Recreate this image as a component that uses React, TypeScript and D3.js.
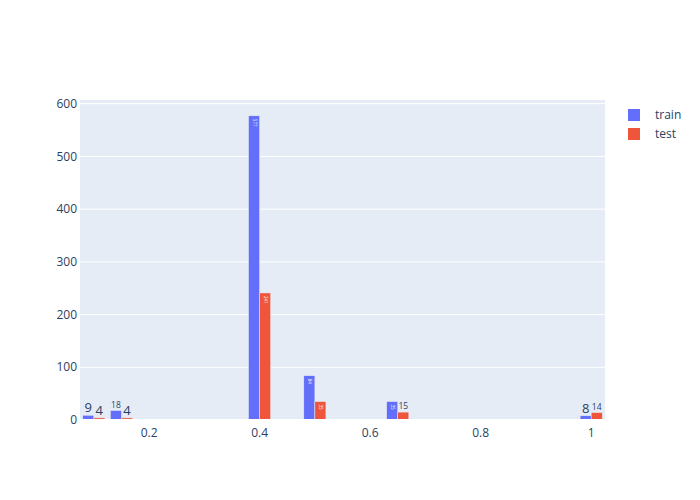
import React from "react";
import * as d3 from "d3";

const categories = [0.1, 0.15, 0.4, 0.5, 0.65, 1.0];
const trainValues = [9, 18, 577, 84, 35, 8];
const testValues = [4, 4, 241, 35, 15, 14];
const seriesNames = ["train", "test"];
const xTicks = [0.2, 0.4, 0.6, 0.8, 1];
const yTicks = [0, 100, 200, 300, 400, 500, 600];

const W = 700, H = 500;
const M = { l: 80, r: 95, t: 100, b: 80 };
const colors = ["#636efa", "#EF553B"];
const font = "'Open Sans', verdana, arial, sans-serif";

export default function App() {
  const x = d3.scaleLinear().domain([0.075, 1.025]).range([M.l, W - M.r]);
  const y = d3.scaleLinear().domain([0, 607]).range([H - M.b, M.t]);
  const groupW = x(0.075 + 0.05 * 0.8) - x(0.075);
  const barW = groupW / 2;
  const series = [trainValues, testValues];

  return (
    <svg width={W} height={H} style={{ position: "absolute", left: 0, top: 0, fontFamily: font }}>
      <rect x={0} y={0} width={W} height={H} fill="#fff" />
      <rect x={M.l} y={M.t} width={W - M.l - M.r} height={H - M.t - M.b} fill="#E5ECF6" />
      {yTicks.map((t) => (
        <g key={t}>
          {t > 0 && <line x1={M.l} x2={W - M.r} y1={y(t)} y2={y(t)} stroke="#fff" strokeWidth={1} />}
          <text x={M.l - 3} y={y(t)} dy="0.35em" textAnchor="end" fontSize={12} fill="#2a3f5f">{t}</text>
        </g>
      ))}
      {xTicks.map((t) => (
        <g key={t}>
          <text x={x(t)} y={H - M.b + 17} textAnchor="middle" fontSize={12} fill="#2a3f5f">{t}</text>
        </g>
      ))}
      {series.map((vals, si) =>
        vals.map((v, i) => {
          const cx = x(categories[i]) - groupW / 2 + si * barW;
          const top = y(v);
          const h = y(0) - top;
          const label = String(v);
          const inside = h > 15;
          const fs = label.length > 1 ? 8.5 : 13;
          return (
            <g key={`${si}-${i}`}>
              <rect x={cx} y={top} width={barW} height={h} fill={colors[si]} stroke="#E5ECF6" strokeWidth={0.5} />
              {inside ? (
                <text
                  transform={`translate(${cx + barW / 2},${top + 3}) rotate(90)`}
                  fontSize={4.5}
                  fill="#fff"
                  dy="0.35em"
                  textAnchor="start"
                >
                  {label}
                </text>
              ) : (
                <text x={cx + barW / 2} y={top - 3} textAnchor="middle" fontSize={fs} fill="#2a3f5f">{label}</text>
              )}
            </g>
          );
        })
      )}
      <line x1={M.l} x2={W - M.r} y1={y(0)} y2={y(0)} stroke="#fff" strokeWidth={2} />
      {seriesNames.map((n, i) => (
        <g key={n} transform={`translate(628,${115 + i * 19})`}>
          <rect x={0} y={-6} width={12} height={12} fill={colors[i]} />
          <text x={27} y={0} dy="0.35em" fontSize={12} fill="#2a3f5f">{n}</text>
        </g>
      ))}
    </svg>
  );
}
